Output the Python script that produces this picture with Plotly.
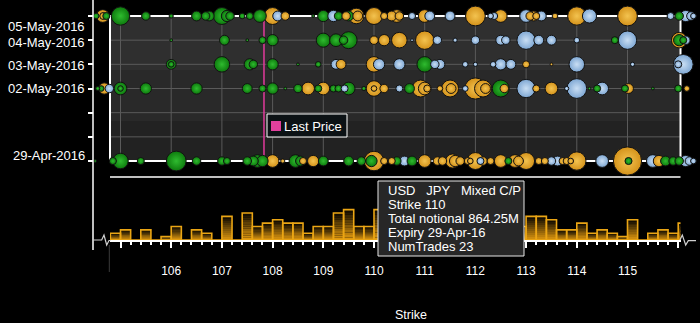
import numpy as np
import pandas as pd
import plotly.graph_objects as go

W, H = 700, 323

# ---------------- data ----------------
EXPIRY_TICKS = ["2016-04-29", "2016-04-30", "2016-05-01", "2016-05-02",
                "2016-05-03", "2016-05-04", "2016-05-05"]
LABEL_DATES = ["2016-05-05", "2016-05-04", "2016-05-03", "2016-05-02", "2016-04-29"]
LABEL_TEXT = ["05-May-2016", "04-May-2016", "03-May-2016", "02-May-2016", "29-Apr-2016"]

STRIKE_TICKS = [105, 106, 107, 108, 109, 110, 111, 112, 113, 114, 115, 116]
STRIKE_TEXT = ["", "106", "107", "108", "109", "110", "111", "112", "113", "114", "115", ""]

LAST_PRICE = 107.83

# trades: (strike, notional in M, type)  C = call (green), P = put (blue), M = mixed C/P (orange)
trades_05may = [
    (104.52, 72, 'C'), (104.65, 365, 'M'), (104.66, 112, 'M'), (104.72, 112, 'C'),
    (105.0, 760, 'C'), (105.5, 162, 'C'), (106.0, 40, 'C'), (106.5, 220, 'C'),
    (106.68, 162, 'C'), (106.75, 220, 'C'), (107.0, 648, 'C'), (107.1, 288, 'C'), (107.16, 162, 'C'),
    (107.4, 72, 'C'), (107.55, 112, 'C'), (107.75, 365, 'C'), (108.0, 648, 'M'), (108.1, 220, 'P'),
    (108.25, 162, 'M'), (108.8, 18, 'C'), (109.0, 288, 'C'), (109.2, 288, 'P'), (109.3, 162, 'C'),
    (109.45, 162, 'M'), (109.5, 220, 'C'), (109.65, 545, 'M'), (109.68, 220, 'M'),
    (110.0, 648, 'M'), (110.2, 112, 'M'), (110.35, 220, 'M'), (110.45, 365, 'M'), (110.5, 162, 'M'),
    (110.75, 112, 'P'), (111.0, 365, 'M'), (111.1, 220, 'P'), (111.5, 220, 'P'),
    (112.0, 882, 'M'), (112.3, 72, 'P'), (112.37, 112, 'P'), (112.5, 365, 'M'), (113.0, 365, 'P'),
    (113.08, 162, 'M'), (113.15, 220, 'M'), (113.2, 112, 'M'), (113.3, 220, 'P'), (113.57, 72, 'M'),
    (114.0, 760, 'M'), (114.25, 450, 'P'), (115.0, 882, 'M'), (115.85, 112, 'P'), (116.02, 162, 'C'),
    (116.15, 288, 'P'), (116.25, 162, 'P'), (116.3, 72, 'P'),
]
trades_04may = [
    (106.0, 18, 'C'), (107.05, 220, 'C'), (107.5, 18, 'C'), (107.8, 112, 'C'), (108.0, 288, 'C'),
    (109.0, 450, 'C'), (109.25, 365, 'C'), (109.4, 162, 'C'), (109.5, 648, 'C'),
    (110.0, 162, 'M'), (110.2, 288, 'M'), (110.5, 545, 'M'), (110.75, 18, 'P'), (111.0, 760, 'M'),
    (111.25, 162, 'P'), (111.6, 40, 'P'), (112.0, 162, 'P'), (112.5, 220, 'P'), (112.6, 162, 'P'),
    (113.0, 760, 'P'), (113.25, 220, 'P'), (113.5, 220, 'P'), (114.0, 72, 'P'), (114.75, 112, 'C'),
    (115.0, 760, 'P'), (116.02, 545, 'M'), (116.02, 288, 'C'), (116.1, 112, 'C'), (116.15, 162, 'P'),
]
trades_03may = [
    (106.0, 220, 'C'), (106.0, 72, 'C'), (107.0, 545, 'C'), (107.55, 288, 'C'), (107.62, 162, 'C'),
    (108.0, 288, 'C'), (108.5, 18, 'C'), (108.9, 72, 'C'), (109.25, 220, 'P'), (109.35, 220, 'M'),
    (110.0, 545, 'M'), (110.1, 288, 'P'), (110.5, 288, 'P'), (111.0, 545, 'C'), (111.2, 162, 'P'),
    (111.3, 220, 'P'), (111.8, 72, 'P'), (112.0, 40, 'P'), (112.35, 72, 'P'), (112.5, 288, 'P'),
    (112.7, 220, 'P'), (113.0, 112, 'M'), (113.5, 18, 'M'), (114.0, 545, 'P'), (115.1, 40, 'P'),
    (116.1, 882, 'P'), (116.0, 112, 'P'),
]
trades_02may = [
    (104.55, 40, 'C'), (104.62, 72, 'C'), (104.68, 288, 'M'), (104.78, 162, 'P'),
    (105.0, 365, 'C'), (105.0, 72, 'C'), (105.5, 288, 'C'), (106.5, 288, 'C'), (107.5, 220, 'C'),
    (107.8, 112, 'C'), (108.0, 288, 'C'), (108.25, 18, 'C'), (108.5, 162, 'C'), (108.7, 365, 'M'),
    (108.9, 112, 'C'), (109.0, 365, 'M'), (109.2, 112, 'C'), (109.3, 112, 'C'), (109.42, 112, 'P'),
    (109.5, 365, 'C'), (109.8, 40, 'C'), (110.0, 545, 'M'), (110.0, 72, 'M'), (110.2, 162, 'M'),
    (110.5, 112, 'P'), (110.7, 220, 'C'), (110.92, 648, 'M'), (111.0, 365, 'M'), (111.05, 112, 'M'),
    (111.3, 72, 'M'), (111.5, 648, 'M'), (111.52, 220, 'M'), (111.8, 72, 'P'), (112.0, 1012, 'M'),
    (112.15, 648, 'M'), (112.2, 220, 'M'), (112.5, 648, 'C'), (112.57, 162, 'M'), (113.0, 760, 'P'),
    (113.2, 112, 'M'), (113.5, 365, 'M'), (113.8, 40, 'P'), (114.0, 882, 'P'), (114.25, 18, 'C'),
    (114.4, 112, 'C'), (114.5, 365, 'P'), (114.95, 112, 'C'), (115.02, 220, 'M'), (115.5, 18, 'C'),
    (116.0, 112, 'C'), (116.17, 72, 'M'),
]
trades_29apr = [
    (104.5, 18, 'C'), (104.85, 112, 'C'), (105.0, 545, 'C'), (105.4, 112, 'C'), (106.1, 882, 'C'),
    (106.5, 162, 'C'), (107.0, 162, 'C'), (107.1, 112, 'C'), (107.5, 162, 'C'), (107.62, 220, 'C'),
    (107.7, 365, 'C'), (107.8, 288, 'C'), (108.0, 365, 'M'), (108.2, 40, 'M'), (108.45, 365, 'C'),
    (108.55, 220, 'C'), (108.6, 112, 'M'), (108.8, 288, 'M'), (109.0, 220, 'C'), (109.5, 220, 'C'),
    (109.75, 162, 'C'), (109.95, 288, 'C'), (110.0, 864.25, 'M'), (110.2, 112, 'M'), (110.35, 112, 'M'),
    (110.45, 162, 'C'), (110.6, 220, 'P'), (110.75, 220, 'C'), (111.0, 365, 'M'),
    (111.25, 162, 'M'), (111.35, 162, 'M'), (111.55, 450, 'M'), (111.6, 288, 'M'), (111.7, 162, 'M'),
    (111.85, 112, 'M'), (111.9, 72, 'M'), (112.0, 648, 'M'), (112.1, 112, 'P'), (112.15, 162, 'M'),
    (112.3, 112, 'M'), (112.5, 365, 'M'), (112.65, 112, 'C'), (112.78, 365, 'M'), (112.85, 220, 'M'),
    (113.0, 648, 'M'), (113.25, 112, 'M'), (113.37, 112, 'M'), (113.5, 162, 'P'), (113.62, 220, 'P'),
    (113.72, 112, 'M'), (113.8, 112, 'M'), (113.88, 72, 'M'), (114.0, 760, 'M'), (114.5, 365, 'P'),
    (115.0, 1800, 'M'), (115.02, 112, 'C'), (115.5, 365, 'P'), (115.62, 288, 'M'), (115.75, 220, 'C'),
    (115.9, 162, 'C'), (116.02, 162, 'C'), (116.15, 288, 'P'), (116.22, 162, 'P'), (116.3, 72, 'P'),
]

# histogram of trade counts per 0.2 strike bin (bin centres)
BIN_CENTERS = [104.9, 105.1, 105.3, 105.5, 105.7, 105.9, 106.1, 106.3, 106.5, 106.7,
               106.9, 107.1, 107.3, 107.5, 107.7, 107.9, 108.1, 108.3, 108.5, 108.7,
               108.9, 109.1, 109.3, 109.5, 109.7, 109.9, 110.1, 110.3, 110.5, 110.7,
               110.9, 111.1, 111.3, 111.5, 111.7, 111.9, 112.1, 112.3, 112.5, 112.7,
               112.9, 113.1, 113.3, 113.5, 113.7, 113.9, 114.1, 114.3, 114.5, 114.7,
               114.9, 115.1, 115.3, 115.5, 115.7, 115.9, 116.1]
BAR_COUNTS = [2, 3, 0, 3, 0, 1, 4, 0, 3, 2,
              0, 7, 0, 8, 4, 5, 6, 5, 5, 2,
              4, 4, 8, 9, 4, 4, 9, 6, 5, 7,
              4, 8, 6, 5, 3, 6, 5, 4, 7, 5,
              4, 7, 7, 6, 3, 3, 5, 2, 3, 2,
              1, 6, 0, 2, 3, 2, 5]

TOOLTIP_LINES = ["USD\u00a0\u00a0\u00a0JPY\u00a0\u00a0\u00a0Mixed C/P", "Strike 110",
                 "Total notional 864.25M", "Expiry 29-Apr-16", "NumTrades 23"]

# ---------------- geometry helpers ----------------
PX_PER_STRIKE = 50.7
PX_AT_105 = 120.5


def px2s(px):
    return 105 + (px - PX_AT_105) / PX_PER_STRIKE


def fx(px):
    return px / W


def fy(py):
    return 1 - py / H


PX_PER_DAY = 24.17
TOP_ROW_PX = 16
d_top = pd.Timestamp("2016-05-05")
y_range = [(d_top - pd.Timedelta(days=(H - TOP_ROW_PX) / PX_PER_DAY)).strftime("%Y-%m-%d %H:%M:%S"),
           (d_top + pd.Timedelta(days=TOP_ROW_PX / PX_PER_DAY)).strftime("%Y-%m-%d %H:%M:%S")]

FRAME_L, FRAME_R, FRAME_T, FRAME_B = 110, 680.5, 16, 161
BASE_PX, PANEL_TOP_PX = 240, 177
PX_PER_TRADE = 3.37

FONT = "Liberation Sans"

fig = go.Figure()

# ---------------- last price line ----------------
fig.add_trace(go.Scatter(x=[LAST_PRICE, LAST_PRICE], y=["2016-04-29", "2016-05-05"],
                         mode="lines", line=dict(color="#e23a9c", width=1.5),
                         hoverinfo="skip", showlegend=False, xaxis="x", yaxis="y"))

# ---------------- bubbles ----------------
rows = []
for d, tr in [("2016-05-05", trades_05may), ("2016-05-04", trades_04may), ("2016-05-03", trades_03may),
              ("2016-05-02", trades_02may), ("2016-04-29", trades_29apr)]:
    for s, n, t in tr:
        rows.append((d, s, n, t))
rows.sort(key=lambda r: -r[2])

EDGE = {"C": "#0d7a0d", "M": "#d4921a", "P": "#7ea7d3"}
CENTER = {"C": "#2fbb2f", "M": "#f3c350", "P": "#c9def3"}

fig.add_trace(go.Scatter(
    x=[r[1] for r in rows], y=[r[0] for r in rows], mode="markers",
    marker=dict(size=[r[2] for r in rows], sizemode="area", sizeref=4.5,
                color=[EDGE[r[3]] for r in rows],
                gradient=dict(type="radial", color=[CENTER[r[3]] for r in rows]),
                line=dict(color="#121212", width=1), opacity=1),
    hoverinfo="skip", showlegend=False, xaxis="x", yaxis="y"))

# ---------------- gradient bars ----------------
N_SEG = 12
bot = np.array([232, 158, 16])
top = np.array([12, 8, 1])
for j in range(N_SEG):
    t = (j + 0.5) / N_SEG
    c = bot * (1 - t) + top * t
    fig.add_trace(go.Bar(
        x=BIN_CENTERS, y=[v / N_SEG for v in BAR_COUNTS], base=[v * j / N_SEG for v in BAR_COUNTS],
        width=0.2, marker=dict(color="rgb(%d,%d,%d)" % tuple(c.astype(int)), line=dict(width=0)),
        hoverinfo="skip", showlegend=False, xaxis="x2", yaxis="y2"))
fig.add_trace(go.Bar(
    x=BIN_CENTERS, y=BAR_COUNTS, width=0.2,
    marker=dict(color="rgba(0,0,0,0)", line=dict(color="#eaa514", width=1.6)),
    hoverinfo="skip", showlegend=False, xaxis="x2", yaxis="y2"))

# ---------------- shapes ----------------
shapes = []
bands = [(FRAME_T, 70, "#2f2f2f"), (70, 121, "#292929"), (121, FRAME_B, "#222222")]
for a, b, col in bands:
    shapes.append(dict(type="rect", xref="paper", yref="paper", x0=fx(FRAME_L), x1=fx(FRAME_R),
                       y0=fy(b), y1=fy(a), fillcolor=col, line=dict(width=0), layer="below"))
for s in range(105, 116):
    shapes.append(dict(type="line", xref="x", yref="paper", x0=s, x1=s, y0=fy(FRAME_B), y1=fy(FRAME_T),
                       line=dict(color="#5a5a5a", width=1), layer="below"))
for d in EXPIRY_TICKS[1:-1]:
    shapes.append(dict(type="line", xref="paper", yref="y", x0=fx(FRAME_L), x1=fx(FRAME_R), y0=d, y1=d,
                       line=dict(color="#5a5a5a", width=1), layer="below"))
shapes.append(dict(type="rect", xref="paper", yref="paper", x0=fx(FRAME_L), x1=fx(FRAME_R),
                   y0=fy(FRAME_B), y1=fy(FRAME_T), line=dict(color="white", width=2),
                   fillcolor="rgba(0,0,0,0)", layer="below"))
# y axis spine
shapes.append(dict(type="line", xref="paper", yref="paper", x0=fx(93), x1=fx(93), y0=fy(250), y1=fy(0),
                   line=dict(color="white", width=1.5)))
# bottom panel top line
shapes.append(dict(type="line", xref="paper", yref="paper", x0=fx(FRAME_L), x1=fx(FRAME_R),
                   y0=fy(PANEL_TOP_PX), y1=fy(PANEL_TOP_PX), line=dict(color="white", width=1.5)))
# axis breaks
zz_l = [(93, 240), (101.7, 240), (104, 235), (106.7, 245), (109, 240.5), (110.5, 240.5)]
zz_r = [(680, 240), (682.3, 235), (685.7, 245), (688.3, 240.7), (696, 240.7)]
for pts in (zz_l, zz_r):
    path = "M " + " L ".join("%.5f,%.5f" % (fx(px), fy(py)) for px, py in pts)
    shapes.append(dict(type="path", xref="paper", yref="paper", path=path,
                       line=dict(color="#d0d0d0", width=1.2)))
shapes.append(dict(type="line", xref="paper", yref="paper", x0=fx(109.3), x1=fx(109.3),
                   y0=fy(272), y1=fy(245), line=dict(color="#3a3a3a", width=1)))
# legend box
shapes.append(dict(type="rect", xref="paper", yref="paper", x0=fx(267), x1=fx(347), y0=fy(137), y1=fy(114),
                   fillcolor="#0c1215", line=dict(color="white", width=1), layer="above"))
shapes.append(dict(type="rect", xref="paper", yref="paper", x0=fx(271), x1=fx(281), y0=fy(131), y1=fy(121),
                   fillcolor="#e0409c", line=dict(width=0), layer="above"))
# tooltip box
shapes.append(dict(type="rect", xref="paper", yref="paper", x0=fx(378), x1=fx(524), y0=fy(256), y1=fy(181),
                   fillcolor="#272727", line=dict(color="#e6e6e6", width=1), layer="above"))

# ---------------- annotations ----------------
ann = []
label_shift = [-10, -2, -1, 0, 6]
for d, txt, sh in zip(LABEL_DATES, LABEL_TEXT, label_shift):
    ann.append(dict(x=fx(87), xref="paper", y=d, yref="y", text=txt, showarrow=False,
                    xanchor="right", yanchor="middle", yshift=sh,
                    font=dict(family=FONT, size=13, color="white")))
for i, line in enumerate(TOOLTIP_LINES):
    ann.append(dict(x=fx(385.5), xref="paper", y=fy(190 + 14.1 * i), yref="paper", text=line,
                    showarrow=False, xanchor="left", yanchor="middle",
                    font=dict(family=FONT, size=13, color="white")))
ann.append(dict(x=fx(281.5), xref="paper", y=fy(126), yref="paper", text="Last Price", showarrow=False,
                xanchor="left", yanchor="middle", font=dict(family=FONT, size=13, color="white")))
ann.append(dict(x=fx(411), xref="paper", y=fy(315), yref="paper", text="Strike", showarrow=False,
                xanchor="center", yanchor="middle", font=dict(family=FONT, size=12.5, color="white")))

minor_vals = [round(105 + 0.2 * k, 1) for k in range(56) if k % 5 != 0]

fig.update_layout(
    width=W, height=H, margin=dict(l=0, r=0, t=0, b=0),
    paper_bgcolor="black", plot_bgcolor="black",
    font=dict(family=FONT, color="#ffffff", size=12),
    barmode="overlay", hovermode=False, showlegend=False,
    shapes=shapes, annotations=ann,
    xaxis=dict(domain=[0, 1], range=[px2s(0), px2s(W)], visible=False, anchor="y"),
    yaxis=dict(domain=[0, 1], type="date", range=y_range, anchor="free", position=fx(93),
               showgrid=False, zeroline=False, showline=False, ticks="outside", ticklen=5,
               tickwidth=1.5, tickcolor="white", tickvals=EXPIRY_TICKS, showticklabels=False),
    xaxis2=dict(domain=[fx(FRAME_L), fx(FRAME_R)], range=[px2s(FRAME_L), px2s(FRAME_R)], anchor="y2",
                showline=True, linecolor="white", linewidth=2, showgrid=False, zeroline=False,
                ticks="outside", ticklen=6, tickwidth=1.5, tickcolor="white",
                tickvals=STRIKE_TICKS, ticktext=STRIKE_TEXT, ticklabelstandoff=13,
                tickfont=dict(family=FONT, size=12, color="#ffffff"),
                minor=dict(tickvals=minor_vals, ticks="outside", ticklen=3, tickwidth=1.5,
                           tickcolor="white", showgrid=False)),
    yaxis2=dict(domain=[fy(BASE_PX), fy(PANEL_TOP_PX)], range=[0, (BASE_PX - PANEL_TOP_PX) / PX_PER_TRADE],
                anchor="x2", visible=False),
)

fig.write_html("out.html")
